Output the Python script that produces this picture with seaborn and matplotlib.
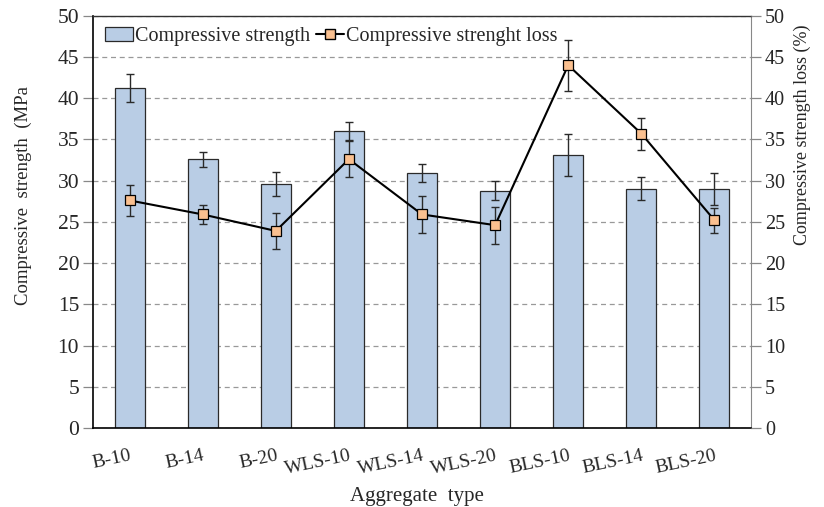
import matplotlib
matplotlib.use("Agg")
import matplotlib.pyplot as plt
import seaborn as sns
import numpy as np
import pandas as pd
from matplotlib.patches import Patch
from matplotlib.lines import Line2D

# Aggregate types and measured values
categories = ["B-10", "B-14", "B-20", "WLS-10", "WLS-14", "WLS-20", "BLS-10", "BLS-14", "BLS-20"]
strength = [41.2, 32.6, 29.6, 36.0, 30.9, 28.8, 33.1, 29.0, 29.0]
strength_err = [1.7, 0.9, 1.45, 1.1, 1.1, 1.1, 2.5, 1.4, 1.9]
loss = [27.6, 25.9, 23.9, 32.6, 25.9, 24.6, 44.0, 35.7, 25.2]
loss_err = [1.85, 1.2, 2.2, 2.2, 2.2, 2.25, 3.1, 1.95, 1.5]
y_ticks = [0, 5, 10, 15, 20, 25, 30, 35, 40, 45, 50]

df = pd.DataFrame({"type": categories, "strength": strength, "loss": loss})

sns.set_style("white")
plt.rcParams["font.family"] = ["Liberation Serif", "DejaVu Serif"]
plt.rcParams["font.size"] = 13

fig = plt.figure(figsize=(8.24, 5.07), dpi=100)
ax = fig.add_axes([0.1129, 0.1558, 0.7985, 0.8132])

bar_color = "#b9cde5"
edge = "#2a2a2a"
sns.barplot(data=df, x="type", y="strength", ax=ax, color=bar_color,
            edgecolor=edge, linewidth=0.9, width=0.41, saturation=1, zorder=2)
xpos = np.arange(len(categories))
ax.errorbar(xpos, strength, yerr=strength_err, fmt="none", ecolor=edge,
            elinewidth=1.0, capsize=3, capthick=1.0, zorder=3)

ax.set_ylim(0, 50)
ax.set_xlim(-0.5, len(categories) - 0.5)
ax.set_yticks(y_ticks)
ax.yaxis.grid(True, linestyle=(0, (4, 3)), color="#999999", linewidth=0.9)
ax.set_axisbelow(True)
ax.tick_params(axis="y", direction="out", length=7, width=0.9, color="#888888", labelsize=15.5, pad=3)
ax.tick_params(axis="x", length=0, labelsize=14, pad=14)
for lab in ax.get_xticklabels():
    lab.set_rotation(12)
    lab.set_ha("right")
    lab.set_rotation_mode("anchor")
for side in ["left", "bottom"]:
    ax.spines[side].set_color("black")
    ax.spines[side].set_linewidth(1.2)
ax.spines["top"].set_color("#333333")
ax.spines["top"].set_linewidth(1.0)
ax.spines["right"].set_color("#888888")
ax.set_xlabel("Aggregate  type", fontsize=15)
ax.xaxis.set_label_coords(0.492, -0.143)
ax.set_ylabel("Compressive  strength  (MPa", fontsize=13.5)
ax.yaxis.set_label_coords(-0.093, 0.563)

# Strength loss on the secondary axis
ax2 = ax.twinx()
sns.pointplot(data=df, x="type", y="loss", ax=ax2, color="black", markers="s",
              linestyles="-", linewidth=1.5, markersize=7.5, zorder=4)
for line in ax2.lines:
    line.set_markerfacecolor("#fac090")
    line.set_markeredgecolor("black")
    line.set_markeredgewidth(0.9)
ax2.errorbar(xpos, loss, yerr=loss_err, fmt="none", ecolor=edge,
             elinewidth=1.0, capsize=3, capthick=1.0, zorder=3)
ax2.set_ylim(0, 50)
ax2.set_yticks(y_ticks)
ax2.set_xlim(-0.5, len(categories) - 0.5)
ax2.tick_params(axis="y", direction="out", length=7, width=0.9, color="#888888", labelsize=14.5, pad=3)
ax2.set_ylabel("Compressive strength loss (%)", fontsize=13)
ax2.yaxis.set_label_coords(1.0653, 0.711)
ax2.set_xlabel("")
for sp in ax2.spines.values():
    sp.set_visible(False)

handles = [Patch(facecolor=bar_color, edgecolor=edge, linewidth=0.9),
           Line2D([0], [0], color="black", lw=1.5, marker="s", markersize=7,
                  markerfacecolor="#fac090", markeredgecolor="black")]
ax2.legend(handles, ["Compressive strength", "Compressive strenght loss"], loc="upper left",
           ncol=2, frameon=False, fontsize=14.5, handlelength=1.4, handletextpad=0.1,
           columnspacing=0.3, borderaxespad=0.0, borderpad=0.0,
           bbox_to_anchor=(0.018, 0.973))

fig.savefig("out.png", dpi=100)
